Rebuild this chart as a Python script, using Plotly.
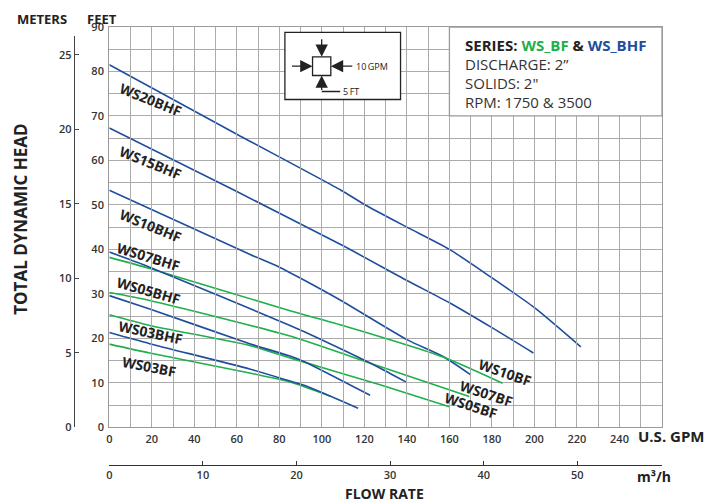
import plotly.graph_objects as go

# ---------------- data ----------------
ws20bhf_gpm = [0, 60, 109, 120, 140, 160, 180, 200, 221.8]
ws20bhf_ft = [81.5, 65.9, 53.3, 50.1, 45.0, 40.0, 33.6, 26.9, 18.1]

ws15bhf_gpm = [0, 60, 110, 140, 160, 180, 199.5]
ws15bhf_ft = [67.3, 53.0, 40.8, 33.0, 28.0, 22.4, 16.7]

ws10bhf_gpm = [0, 65.5, 80, 90, 109, 140, 157, 170]
ws10bhf_ft = [53.3, 39.0, 36.0, 33.5, 28.5, 19.7, 15.9, 11.8]

ws07bhf_gpm = [0, 19, 85, 92, 127, 139.5]
ws07bhf_ft = [39.4, 36.0, 22.9, 21.4, 13.4, 10.2]

ws05bhf_gpm = [0, 19, 66, 85, 92, 122.7]
ws05bhf_ft = [29.6, 26.6, 18.8, 16.0, 14.7, 7.2]

ws03bhf_gpm = [0, 19, 66, 85, 92, 117]
ws03bhf_ft = [21.3, 18.8, 13.1, 10.4, 9.4, 4.3]

ws10bf_gpm = [0, 19, 85, 109, 157, 185]
ws10bf_ft = [38.2, 35.7, 26.2, 23.0, 15.8, 9.9]

ws07bf_gpm = [0, 19, 85, 127, 169.3]
ws07bf_ft = [30.3, 28.5, 20.5, 13.7, 6.9]

ws05bf_gpm = [0, 19, 66, 85, 127, 160]
ws05bf_ft = [25.3, 22.9, 18.4, 15.6, 9.6, 4.6]

ws03bf_gpm = [0, 19, 66, 85, 104]
ws03bf_ft = [18.7, 16.7, 12.2, 10.2, 7.0]

gpm_ticks = list(range(0, 241, 20))
feet_ticks = list(range(0, 91, 10))
meter_ticks = [0, 5, 10, 15, 20, 25]
m3h_ticks = [0, 10, 20, 30, 40, 50]

info_lines = ["DISCHARGE: 2\u201d", "SOLIDS: 2\"", "RPM: 1750 & 3500"]

# ---------------- styling ----------------
BLUE = "#1f4e9c"
GREEN = "#1db04b"
GRID = "#ababab"
DARK = "#222222"
TXT = "#333333"
FONT = "Open Sans"

W, H = 716, 504
OFF = 8  # the page body adds an 8px margin around the figure


def sx(x):  # screen x -> figure x
    return x - OFF


def sy(y):
    return y - OFF


plot_left, plot_right, plot_top, plot_bottom = 109.3, 661.7, 27.3, 427.3
meter_top, meter_x, m3h_line = 36.7, 74.0, 465.0

ML = sx(meter_x)
MT = sy(plot_top)
MR = W - sx(plot_right)
MB = H - sy(m3h_line)
PW = W - ML - MR
PH = H - MT - MB


def px(x):
    return (sx(x) - ML) / PW


def py(y):
    return (H - MB - sy(y)) / PH


x_dom0 = px(plot_left)
y_dom0 = py(plot_bottom)
y2_dom1 = py(meter_top)

fig = go.Figure()

curves = [
    (ws20bhf_gpm, ws20bhf_ft, BLUE),
    (ws15bhf_gpm, ws15bhf_ft, BLUE),
    (ws10bhf_gpm, ws10bhf_ft, BLUE),
    (ws10bf_gpm, ws10bf_ft, GREEN),
    (ws07bf_gpm, ws07bf_ft, GREEN),
    (ws05bf_gpm, ws05bf_ft, GREEN),
    (ws03bf_gpm, ws03bf_ft, GREEN),
    (ws07bhf_gpm, ws07bhf_ft, BLUE),
    (ws05bhf_gpm, ws05bhf_ft, BLUE),
    (ws03bhf_gpm, ws03bhf_ft, BLUE),
]

# helper traces so the secondary axes get drawn (added first, below the curves)
fig.add_trace(go.Scatter(x=[None], y=[None], xaxis="x", yaxis="y2", showlegend=False, hoverinfo="skip"))
fig.add_trace(go.Scatter(x=[None], y=[None], xaxis="x2", yaxis="y", showlegend=False, hoverinfo="skip"))

for gx, gy, col in curves:
    fig.add_trace(go.Scatter(x=gx, y=gy, mode="lines",
                             line=dict(color=col, width=1.6, shape="spline", smoothing=0.6),
                             hoverinfo="skip", showlegend=False))

tickfont = dict(family=FONT, size=11, color=TXT, weight=600)

fig.update_layout(
    width=W, height=H,
    margin=dict(l=ML, r=MR, t=MT, b=MB, autoexpand=False),
    paper_bgcolor="white", plot_bgcolor="rgba(0,0,0,0)",
    font=dict(family=FONT, color=TXT),
    xaxis=dict(domain=[x_dom0, 1], range=[0, 260], tickmode="array", tickvals=gpm_ticks,
               showgrid=True, gridcolor=GRID, gridwidth=1.3,
               minor=dict(dtick=10, showgrid=True, gridcolor=GRID, gridwidth=1.3),
               showline=True, linecolor="#9a9a9a", linewidth=1.3, mirror=True,
               zeroline=False, ticks="", tickfont=tickfont, ticklabelstandoff=1,
               automargin=False, fixedrange=True),
    yaxis=dict(domain=[y_dom0, 1], range=[0, 90], tickmode="array", tickvals=feet_ticks,
               showgrid=True, gridcolor=GRID, gridwidth=1.3,
               minor=dict(dtick=5, showgrid=True, gridcolor=GRID, gridwidth=1.3),
               showline=True, linecolor="#9a9a9a", linewidth=1.3, mirror=True,
               zeroline=False, ticks="", tickfont=tickfont, ticklabelstandoff=2,
               automargin=False, fixedrange=True),
    xaxis2=dict(overlaying="x", anchor="free", position=0, side="bottom",
                range=[0, 260 / 4.403], tickmode="array", tickvals=m3h_ticks,
                showgrid=False, zeroline=False, showline=True, linecolor="#333333",
                linewidth=1.3, ticks="inside", ticklen=4, tickcolor="#333333",
                tickfont=tickfont, automargin=False, fixedrange=True),
    yaxis2=dict(anchor="free", position=0, domain=[y_dom0, y2_dom1],
                range=[0, (plot_bottom - meter_top) / 14.89], tickmode="array",
                tickvals=meter_ticks, showgrid=False, zeroline=False, showline=True,
                linecolor="#444444", linewidth=1.3, ticks="inside", ticklen=4,
                tickcolor="#444444", tickfont=tickfont, automargin=False,
                fixedrange=True),
)

# ---------------- info box ----------------
fig.add_shape(type="rect", x0=160, x1=260, y0=70, y1=90, xref="x", yref="y",
              fillcolor="white", line=dict(color="#9a9a9a", width=1.3), layer="above")

info_x = 166.5
fig.add_annotation(x=info_x, y=86.0, xref="x", yref="y", xanchor="left", yanchor="middle",
                   showarrow=False,
                   text=("<b>SERIES: <span style='color:%s'>WS_BF</span> &amp; "
                         "<span style='color:%s'>WS_BHF</span></b>" % (GREEN, BLUE)),
                   font=dict(family=FONT, size=15, color=DARK))
for i, line in enumerate(info_lines):
    fig.add_annotation(x=info_x, y=81.7 - 4.3 * i, xref="x", yref="y", xanchor="left",
                       yanchor="middle", showarrow=False, text=line,
                       font=dict(family=FONT, size=15, color=TXT))

# ---------------- scale diagram ----------------
fig.add_shape(type="rect", x0=82.6, x1=137.0, y0=73.7, y1=88.8, xref="x", yref="y",
              fillcolor="white", line=dict(color=DARK, width=1.3), layer="above")
fig.add_shape(type="rect", x0=95.6, x1=104.2, y0=79.1, y1=83.3, xref="x", yref="y",
              fillcolor="white", line=dict(color=DARK, width=1.3), layer="above")
arrow_style = dict(showarrow=True, arrowhead=2, arrowsize=1.9, arrowwidth=1.3,
                   arrowcolor=DARK, text="", xref="x", yref="y", standoff=0)
fig.add_annotation(x=99.9, y=83.3, ax=0, ay=-19, **arrow_style)
fig.add_annotation(x=95.6, y=81.2, ax=-22, ay=0, **arrow_style)
fig.add_annotation(x=104.2, y=81.2, ax=23, ay=0, **arrow_style)
fig.add_annotation(x=99.9, y=79.1, ax=0, ay=16, **arrow_style)
fig.add_shape(type="line", x0=99.9, x1=108.6, y0=75.5, y1=75.5, xref="x", yref="y",
              line=dict(color=DARK, width=1.3), layer="above")
fig.add_annotation(x=115.2, y=81.2, xref="x", yref="y", xanchor="left", yanchor="middle",
                   showarrow=False, text="10\u2009GPM",
                   font=dict(family=FONT, size=9, color=DARK))
fig.add_annotation(x=109.0, y=75.5, xref="x", yref="y", xanchor="left", yanchor="middle",
                   showarrow=False, text="5\u2009FT",
                   font=dict(family=FONT, size=9, color=DARK))

# ---------------- curve labels ----------------
labels = [
    ("WS20BHF", 19.2, 73.6, 22),
    ("WS15BHF", 19.2, 59.5, 22),
    ("WS10BHF", 19.2, 45.3, 22),
    ("WS07BHF", 18.2, 38.5, 17),
    ("WS05BHF", 18.2, 30.7, 16),
    ("WS03BHF", 19.6, 21.2, 12),
    ("WS03BF", 18.7, 13.6, 11),
    ("WS10BF", 186.3, 12.4, 19),
    ("WS07BF", 177.4, 7.5, 18),
    ("WS05BF", 170.3, 5.0, 18),
]
for t, lx, ly, ang in labels:
    fig.add_annotation(x=lx, y=ly, xref="x", yref="y", text="<b>%s</b>" % t,
                       showarrow=False, textangle=ang, xanchor="center", yanchor="middle",
                       font=dict(family=FONT, size=14, color=DARK))

# ---------------- axis titles ----------------
title_font = dict(family=FONT, size=14, color=DARK)
paper_ann = dict(xref="paper", yref="paper", showarrow=False)
top_font = dict(family=FONT, size=13, color=DARK)
fig.add_annotation(x=px(42.5), y=py(8.5), xanchor="center", yanchor="top",
                   text="<b>METERS</b>", font=top_font, **paper_ann)
fig.add_annotation(x=px(101.5), y=py(8.5), xanchor="center", yanchor="top",
                   text="<b>FEET</b>", font=top_font, **paper_ann)
fig.add_annotation(x=px(21), y=py(219), xanchor="center", yanchor="middle",
                   text="<b>TOTAL DYNAMIC HEAD</b>", textangle=-90,
                   font=dict(family=FONT, size=17, color=DARK), **paper_ann)
fig.add_annotation(x=px(636), y=py(436), xanchor="left", yanchor="middle",
                   text="<b>U.S. GPM</b>",
                   font=dict(family=FONT, size=15, color=DARK), **paper_ann)
fig.add_annotation(x=px(635), y=py(476), xanchor="left", yanchor="middle",
                   text="<b>m\u00b3/h</b>",
                   font=dict(family=FONT, size=14, color=DARK), **paper_ann)
fig.add_annotation(x=px(384), y=py(493), xanchor="center", yanchor="middle",
                   text="<b>FLOW RATE</b>", font=title_font, **paper_ann)

fig.write_html("out.html")
